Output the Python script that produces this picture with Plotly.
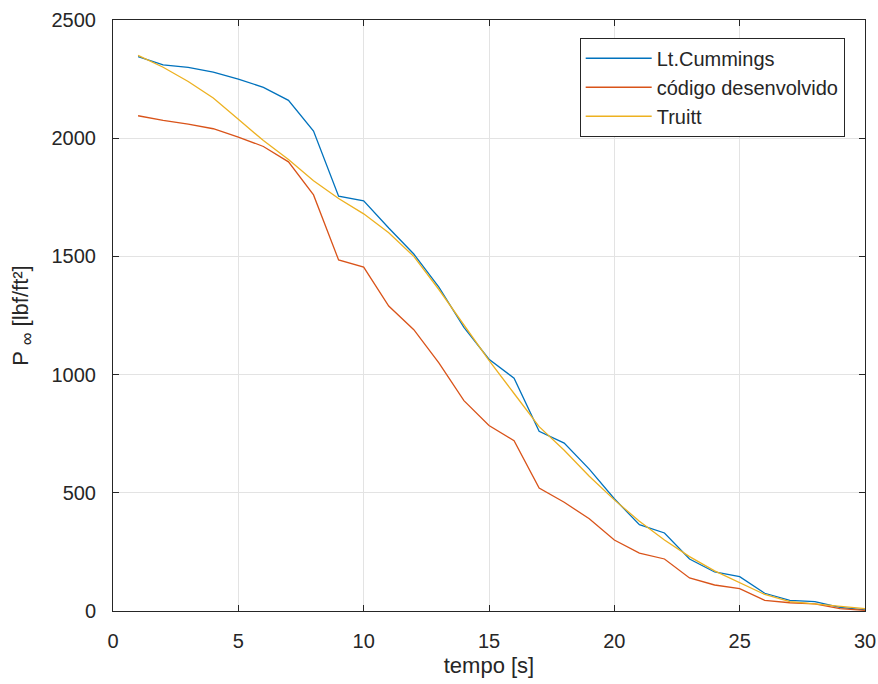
import plotly.graph_objects as go

tempo = list(range(1, 31))
cummings = [2345, 2310, 2300, 2280, 2250, 2215, 2160, 2030, 1755, 1735,
            1620, 1510, 1370, 1200, 1065, 985, 760, 710, 600, 475,
            365, 330, 220, 165, 145, 75, 45, 40, 15, 5]
codigo = [2095, 2075, 2060, 2040, 2005, 1965, 1900, 1760, 1485, 1455,
          1290, 1190, 1050, 890, 785, 720, 520, 460, 390, 300,
          245, 220, 140, 110, 95, 45, 35, 30, 10, 3]
truitt = [2350, 2300, 2240, 2170, 2080, 1990, 1910, 1820, 1745, 1680,
          1600, 1500, 1360, 1210, 1060, 920, 780, 680, 570, 470,
          380, 300, 230, 170, 120, 70, 40, 30, 20, 10]

names = ["Lt.Cummings", "código desenvolvido", "Truitt"]
colors = ["#0072BD", "#D95319", "#EDB120"]

fig = go.Figure()
for name, ys, c in zip(names, [cummings, codigo, truitt], colors):
    fig.add_trace(go.Scatter(x=tempo, y=ys, mode="lines", name=name,
                             line=dict(color=c, width=1.3)))

axis_common = dict(showline=True, linecolor="#262626", linewidth=1, mirror="ticks",
                   ticks="inside", ticklen=6, tickcolor="#262626",
                   showgrid=True, gridcolor="#E3E3E3", gridwidth=1,
                   zeroline=False, tickfont=dict(size=20, color="#262626"))

fig.update_layout(
    width=878, height=684,
    margin=dict(l=113, r=13, t=20, b=73, autoexpand=False),
    paper_bgcolor="white", plot_bgcolor="white",
    font=dict(family="Liberation Sans, Arial, sans-serif", color="#262626"),
    xaxis=dict(range=[0, 30], dtick=5, ticklabelstandoff=12, automargin=False,
               title=dict(text="tempo [s]", font=dict(size=22), standoff=6),
               **axis_common),
    yaxis=dict(range=[0, 2500], dtick=500, ticklabelstandoff=12, automargin=False,
               title=dict(text='P <sub><span style="font-size:18px">∞</span></sub> [lbf/ft²]',
                          font=dict(size=22), standoff=16),
               **axis_common),
    legend=dict(x=0.973, y=0.97, xanchor="right", yanchor="top",
                bgcolor="white", bordercolor="#262626", borderwidth=1,
                font=dict(size=20), tracegroupgap=0, itemwidth=66),
)

fig.write_html("out.html")
